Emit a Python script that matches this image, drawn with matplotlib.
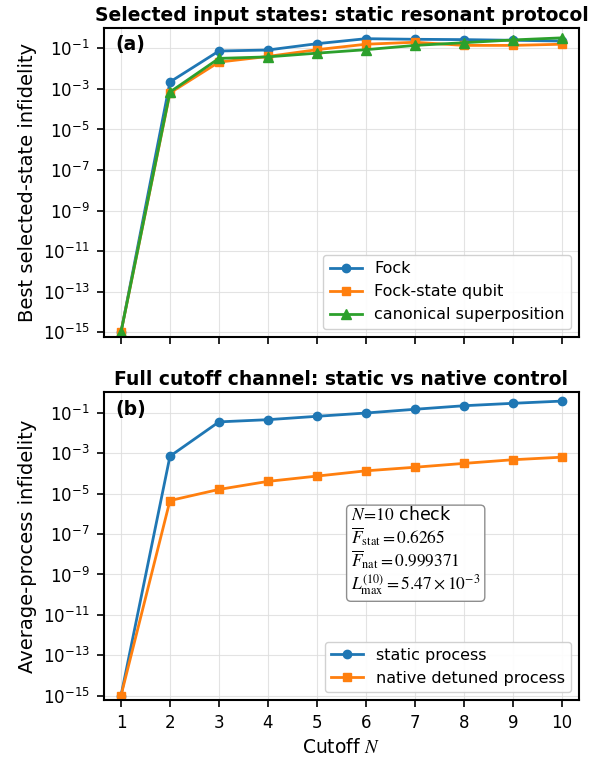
import numpy as np
import matplotlib
matplotlib.use("Agg")
import matplotlib.pyplot as plt

plt.rcParams["mathtext.fontset"] = "stix"

cutoffs = [1, 2, 3, 4, 5, 6, 7, 8, 9, 10]

# (a) best selected-state infidelity
fock = [1e-15, 2.2e-3, 0.074, 0.083, 0.17, 0.30, 0.28, 0.27, 0.25, 0.23]
fock_qubit = [1e-15, 6.3e-4, 0.021, 0.040, 0.086, 0.16, 0.20, 0.14, 0.14, 0.16]
canonical = [1e-15, 7.0e-4, 0.032, 0.038, 0.058, 0.086, 0.14, 0.19, 0.26, 0.33]

# (b) average-process infidelity
static_proc = [1e-15, 7.0e-4, 0.035, 0.045, 0.066, 0.096, 0.147, 0.22, 0.29, 0.3735]
native_proc = [1e-15, 4.5e-6, 1.6e-5, 4.0e-5, 7.3e-5, 1.33e-4, 2.0e-4, 3.1e-4, 4.7e-4, 6.29e-4]

fig = plt.figure(figsize=(5.97, 7.64), dpi=100)
ax1 = fig.add_axes([0.1735, 0.5593, 0.7968, 0.4045])
ax2 = fig.add_axes([0.1735, 0.0834, 0.7968, 0.4035])

lw, ms = 2.0, 6.0
ax1.plot(cutoffs, fock, "-o", color="#1f77b4", lw=lw, ms=ms, label="Fock")
ax1.plot(cutoffs, fock_qubit, "-s", color="#ff7f0e", lw=lw, ms=ms, label="Fock-state qubit")
ax1.plot(cutoffs, canonical, "-^", color="#2ca02c", lw=lw, ms=ms + 0.5, label="canonical superposition")

ax2.plot(cutoffs, static_proc, "-o", color="#1f77b4", lw=lw, ms=ms, label="static process")
ax2.plot(cutoffs, native_proc, "-s", color="#ff7f0e", lw=lw, ms=ms, label="native detuned process")

yticks = [10.0 ** k for k in range(-15, 0, 2)]
for ax in (ax1, ax2):
    ax.set_yscale("log")
    ax.set_ylim(6e-16, 1.05)
    ax.set_xlim(0.645, 10.355)
    ax.set_yticks(yticks)
    ax.minorticks_off()
    ax.set_xticks(cutoffs)
    ax.grid(True, color="#dddddd", lw=0.8, alpha=0.8)
    ax.tick_params(labelsize=12, width=1.2, length=5, pad=5)
    for s in ax.spines.values():
        s.set_linewidth(1.5)
    ax.legend(loc="lower right", fontsize=11.5, framealpha=0.9)

ax1.tick_params(labelbottom=False)
ax1.set_ylabel("Best selected-state infidelity", fontsize=14)
ax2.set_ylabel("Average-process infidelity", fontsize=14)
ax2.set_xlabel("Cutoff $N$", fontsize=13.5)

ax1.set_title("Selected input states: static resonant protocol", fontsize=13.5, fontweight="bold", pad=5)
ax2.set_title("Full cutoff channel: static vs native control", fontsize=13.5, fontweight="bold", pad=5)

ax1.text(0.025, 0.975, "(a)", transform=ax1.transAxes, fontsize=13.5, fontweight="bold", va="top", ha="left")
ax2.text(0.025, 0.975, "(b)", transform=ax2.transAxes, fontsize=13.5, fontweight="bold", va="top", ha="left")

F_stat = 1 - static_proc[-1]
F_nat = 1 - native_proc[-1]
summary = ("$N\\!=\\!10$ check\n"
           f"$\\overline{{F}}_{{\\mathrm{{stat}}}}={F_stat:.4f}$\n"
           f"$\\overline{{F}}_{{\\mathrm{{nat}}}}={F_nat:.6f}$\n"
           "$L_{\\mathrm{max}}^{(10)}=5.47\\times10^{-3}$")
ax2.text(0.52, 0.63, summary, transform=ax2.transAxes, fontsize=12.5, va="top", ha="left",
         linespacing=1.05,
         bbox=dict(boxstyle="round,pad=0.25", fc="white", ec="#888888", alpha=0.95))

fig.savefig("out.png", dpi=100)
